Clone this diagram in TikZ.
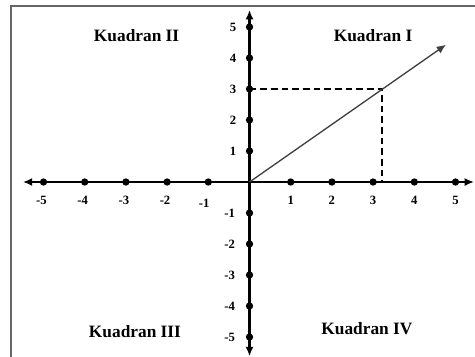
\documentclass[tikz,border=0pt]{standalone}
\usepackage{fontspec}
\setmainfont{Liberation Serif}
\usepackage{tikz}
\usetikzlibrary{arrows.meta}

\tikzset{
  axis/.style={line width=1.7pt, {Latex[length=7pt,width=6pt]}-{Latex[length=7pt,width=6pt]}},
  tick/.style={circle, fill=black, inner sep=0pt, minimum size=5.5pt},
  num/.style={font=\fontsize{9.5}{11}\selectfont\bfseries},
  quad/.style={font=\fontsize{13}{15}\selectfont\bfseries},
  guide/.style={line width=1.5pt, dash pattern=on 5pt off 3pt},
}

\begin{document}
\begin{tikzpicture}[x=30.9pt, y=23.25pt]

\useasboundingbox (-6.056,-5.613) rectangle (5.473,5.871);

% frame
\draw[gray!80!black, line width=1pt] (-5.79,-6) -- (-5.79,5.68) -- (6,5.68);

\coordinate (O) at (0,0);
\coordinate (L) at (-5.5,0);
\coordinate (R) at (5.45,0);
\coordinate (T) at (0,5.55);
\coordinate (B) at (0,-5.62);
\coordinate (P) at (3.22,3);
\coordinate (Py) at (0,3);
\coordinate (Px) at (3.22,0);
\coordinate (V) at (4.77,4.43);

% dashed guides
\draw[guide] (Py) -- (P) -- (Px);

% axes
\draw[axis] (L) -- (R);
\draw[axis] (B) -- (T);

% x ticks
\node[tick] (x1) at (1,0) {};
\node[tick] (x2) at (2,0) {};
\node[tick] (x3) at (3,0) {};
\node[tick] (x4) at (4,0) {};
\node[tick] (x5) at (5,0) {};
\node[tick] (xm1) at (-1,0) {};
\node[tick] (xm2) at (-2,0) {};
\node[tick] (xm3) at (-3,0) {};
\node[tick] (xm4) at (-4,0) {};
\node[tick] (xm5) at (-5,0) {};

\node[num] at (1,-0.6) {1};
\node[num] at (2,-0.6) {2};
\node[num] at (3,-0.6) {3};
\node[num] at (4,-0.6) {4};
\node[num] at (5,-0.6) {5};
\node[num] at (-1.1,-0.68) {-1};
\node[num] at (-2.05,-0.6) {-2};
\node[num] at (-3.05,-0.6) {-3};
\node[num] at (-4.05,-0.6) {-4};
\node[num] at (-5.05,-0.6) {-5};

% y ticks
\node[tick] (y1) at (0,1) {};
\node[tick] (y2) at (0,2) {};
\node[tick] (y3) at (0,3) {};
\node[tick] (y4) at (0,4) {};
\node[tick] (y5) at (0,5) {};
\node[tick] (ym1) at (0,-1) {};
\node[tick] (ym2) at (0,-2) {};
\node[tick] (ym3) at (0,-3) {};
\node[tick] (ym4) at (0,-4) {};
\node[tick] (ym5) at (0,-5) {};

\node[num] at (-0.4,1) {1};
\node[num] at (-0.4,2) {2};
\node[num] at (-0.4,3) {3};
\node[num] at (-0.4,4) {4};
\node[num] at (-0.4,5) {5};
\node[num] at (-0.48,-1) {-1};
\node[num] at (-0.48,-2) {-2};
\node[num] at (-0.48,-3) {-3};
\node[num] at (-0.48,-4) {-4};
\node[num] at (-0.48,-5) {-5};

% vector
\draw[gray!50!black, line width=1pt, -{Latex[length=7pt,width=6pt]}] (O) -- (V);

% quadrants
\node[quad] (q1) at (3.0,4.71) {Kuadran I};
\node[quad] (q2) at (-2.74,4.71) {Kuadran II};
\node[quad] (q3) at (-2.78,-4.81) {Kuadran III};
\node[quad] (q4) at (2.85,-4.74) {Kuadran IV};

\end{tikzpicture}
\end{document}
